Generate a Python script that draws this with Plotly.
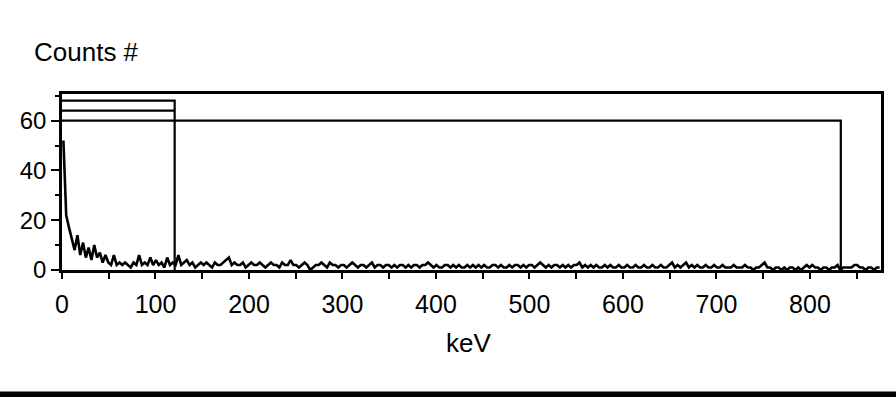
import plotly.graph_objects as go

# Gamma spectrum: counts per 3 keV bin, starting at 0 keV
KEV_PER_BIN = 3
counts = [
    52, 22, 17, 13, 8, 14, 6, 11, 5, 9,
    4, 10, 5, 7, 3, 6, 3, 2, 6, 2,
    3, 2, 3, 2, 1, 3, 2, 6, 2, 3,
    2, 5, 2, 4, 2, 3, 1, 5, 2, 3,
    2, 6, 2, 3, 4, 2, 3, 1, 2, 3,
    2, 3, 2, 1, 3, 2, 2, 3, 4, 5,
    2, 3, 2, 2, 3, 1, 2, 3, 2, 2,
    3, 2, 1, 2, 3, 2, 2, 1, 3, 2,
    2, 4, 2, 2, 1, 2, 3, 2, 0, 1,
    2, 2, 3, 2, 1, 3, 2, 2, 1, 2,
    2, 1, 2, 3, 2, 1, 2, 2, 1, 2,
    3, 1, 2, 2, 1, 2, 2, 1, 2, 1,
    2, 2, 1, 2, 1, 2, 2, 1, 2, 2,
    3, 2, 1, 2, 1, 1, 2, 2, 1, 2,
    1, 2, 1, 1, 2, 1, 2, 1, 2, 1,
    2, 1, 1, 2, 2, 1, 2, 1, 1, 2,
    1, 2, 2, 1, 2, 1, 2, 2, 1, 2,
    3, 2, 1, 2, 1, 2, 2, 1, 2, 1,
    2, 1, 2, 2, 3, 1, 2, 1, 2, 1,
    2, 1, 1, 2, 1, 2, 1, 1, 2, 1,
    1, 2, 1, 1, 2, 1, 1, 2, 1, 1,
    2, 1, 1, 2, 1, 1, 2, 3, 1, 2,
    1, 2, 3, 1, 2, 1, 2, 1, 1, 2,
    1, 1, 2, 1, 1, 2, 1, 1, 1, 2,
    1, 1, 1, 2, 1, 1, 0, 1, 1, 2,
    3, 1, 1, 0, 1, 1, 0, 1, 0, 1,
    1, 0, 1, 0, 1, 2, 1, 2, 1, 1,
    0, 1, 1, 0, 1, 1, 2, 0, 1, 1,
    1, 1, 2, 2, 1, 1, 0, 1, 1, 0,
    1, 1,
]
energy_kev = [KEV_PER_BIN * i + KEV_PER_BIN / 2 for i in range(len(counts))]

# Region-of-interest markers
roi_ends_kev = [120.5, 833]      # right edge of the short and the long ROI
roi_levels = [68, 64, 60]        # marker heights (counts)

x_tick_vals = [0, 100, 200, 300, 400, 500, 600, 700, 800]
x_tick_text = ["0", "100", "200", "300", "400", "500", "600", "700", "800"]
y_tick_vals = [0, 20, 40, 60]
y_tick_text = ["0", "20", "40", "60"]

X_RANGE = [0, 876]
Y_RANGE = [0, 70.7]

FONT = "Liberation Sans, Arial, sans-serif"
INK = "black"

fig = go.Figure()

# short ROI: box top and inner level line
fig.add_trace(go.Scatter(
    x=[0, roi_ends_kev[0], roi_ends_kev[0]],
    y=[roi_levels[0], roi_levels[0], 0],
    mode="lines", line=dict(color=INK, width=2.2), hoverinfo="skip"))
fig.add_trace(go.Scatter(
    x=[0, roi_ends_kev[0]],
    y=[roi_levels[1], roi_levels[1]],
    mode="lines", line=dict(color=INK, width=2.2), hoverinfo="skip"))
# long ROI
fig.add_trace(go.Scatter(
    x=[0, roi_ends_kev[1], roi_ends_kev[1]],
    y=[roi_levels[2], roi_levels[2], 0],
    mode="lines", line=dict(color=INK, width=2.2), hoverinfo="skip"))

# spectrum
fig.add_trace(go.Scatter(
    x=energy_kev, y=counts, mode="lines",
    line=dict(color=INK, width=2.6)))

fig.update_layout(
    width=896, height=401,
    margin=dict(l=62, r=15, t=94, b=131),
    paper_bgcolor="white", plot_bgcolor="white",
    showlegend=False,
    font=dict(family=FONT, color=INK),
)

fig.update_xaxes(
    range=X_RANGE, showgrid=False, zeroline=False,
    showline=True, mirror=True, linecolor=INK, linewidth=2.5,
    tickmode="array", tickvals=x_tick_vals, ticktext=x_tick_text,
    ticks="outside", ticklen=6, tickwidth=2, tickcolor=INK,
    minor=dict(dtick=50, ticks="outside", ticklen=6, tickwidth=2, tickcolor=INK),
    tickfont=dict(size=25, family=FONT, color=INK),
    ticklabelstandoff=4,
)
fig.update_yaxes(
    range=Y_RANGE, showgrid=False, zeroline=False,
    showline=True, mirror=True, linecolor=INK, linewidth=2.5,
    tickmode="array", tickvals=y_tick_vals, ticktext=y_tick_text,
    ticks="outside", ticklen=8, tickwidth=2, tickcolor=INK,
    minor=dict(dtick=10, ticks="outside", ticklen=4, tickwidth=1.5, tickcolor=INK),
    tickfont=dict(size=24, family=FONT, color=INK),
)

fig.add_annotation(
    text="Counts #", xref="paper", yref="paper",
    x=-0.037, y=1.24, xanchor="left", yanchor="middle",
    showarrow=False, font=dict(size=26, family=FONT, color=INK))
fig.add_annotation(
    text="keV", xref="paper", yref="paper",
    x=0.496, y=-0.415, xanchor="center", yanchor="middle",
    showarrow=False, font=dict(size=26, family=FONT, color=INK))

# heavy rule along the bottom of the page
fig.add_shape(
    type="rect", xref="paper", yref="paper",
    x0=-0.08, x1=1.05, y0=-0.722, y1=-0.690,
    fillcolor=INK, line=dict(width=0), layer="above")

fig.write_html("out.html")
